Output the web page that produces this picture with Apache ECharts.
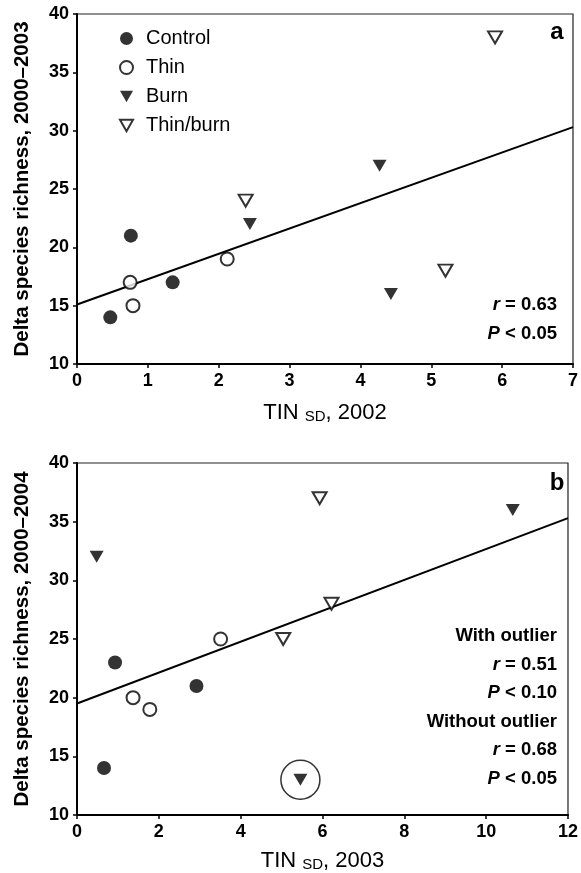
<!DOCTYPE html>
<html>
<head>
<meta charset="utf-8">
<script src="https://cdn.jsdelivr.net/npm/echarts@6/dist/echarts.min.js"></script>
<style>
  html, body { margin: 0; padding: 0; background: #fff; }
  #chart { width: 581px; height: 873px; }
</style>
</head>
<body>
<div id="chart"></div>
<script>
// groups shown in the legend
const groups = ["Control", "Thin", "Burn", "Thin/burn"];

// panel a: TIN SD 2002 vs delta richness 2000-2003
const aControl = [[0.47, 14], [0.76, 21], [1.35, 17]];
const aThin = [[0.75, 17], [0.79, 15], [2.12, 19]];
const aBurn = [[2.44, 22], [4.27, 27], [4.43, 16]];
const aThinBurn = [[2.38, 24], [5.2, 18], [5.9, 38]];
const aFit = [[0, 15.1], [7, 30.3]];

// panel b: TIN SD 2003 vs delta richness 2000-2004
const bControl = [[0.66, 14], [0.93, 23], [2.92, 21]];
const bThin = [[1.37, 20], [1.78, 19], [3.51, 25]];
const bBurn = [[0.48, 32], [10.65, 36], [5.46, 13]];
const bThinBurn = [[5.04, 25], [5.93, 37], [6.22, 28]];
const bFit = [[0, 19.5], [12, 35.3]];
const bOutlier = [[5.46, 13]];

const aXMax = 7, aXStep = 1;
const bXMax = 12, bXStep = 2;
const yMin = 10, yMax = 40, yStep = 5;

const aStats = ["{i|r} = 0.63", "{i|P} < 0.05"];
const bStats = ["With outlier", "{i|r} = 0.51", "{i|P} < 0.10", "Without outlier", "{i|r} = 0.68", "{i|P} < 0.05"];

const FONT = "Liberation Sans, Arial, Helvetica, sans-serif";
const DOWN = "path://M0,0L12,0L6,10.4Z";

const markStyle = {
  "Control": { symbol: "circle", symbolSize: 14, itemStyle: { color: "#000" } },
  "Thin": { symbol: "circle", symbolSize: 13, itemStyle: { color: "#fff", borderColor: "#000", borderWidth: 2 } },
  "Burn": { symbol: "triangle", symbolSize: [14, 12], symbolRotate: 180, itemStyle: { color: "#000" } },
  "Thin/burn": { symbol: "triangle", symbolSize: [14, 12], symbolRotate: 180, itemStyle: { color: "#fff", borderColor: "#000", borderWidth: 2 } },
};
const legendIcon = { "Control": "circle", "Thin": "circle", "Burn": DOWN, "Thin/burn": DOWN };

function scatter(name, data, idx) {
  return Object.assign({
    type: "scatter", name, data,
    xAxisIndex: idx, yAxisIndex: idx,
    silent: true, z: 3,
  }, markStyle[name]);
}

function fitLine(data, idx) {
  return {
    type: "line", data, xAxisIndex: idx, yAxisIndex: idx,
    showSymbol: false, silent: true, z: 2,
    lineStyle: { color: "#000", width: 2 },
  };
}

function xAxis(idx, max, step, year, gap) {
  return {
    type: "value", gridIndex: idx, min: 0, max, interval: step,
    name: "{n|TIN }{s|SD}{n|, " + year + "}",
    nameLocation: "middle", nameGap: gap,
    nameTextStyle: {
      color: "#000", fontFamily: FONT,
      rich: {
        n: { fontSize: 22, fontFamily: FONT, color: "#000", verticalAlign: "bottom", lineHeight: 24 },
        s: { fontSize: 15, fontFamily: FONT, color: "#000", verticalAlign: "bottom", lineHeight: 21 },
      },
    },
    axisLine: { onZero: false, lineStyle: { color: "#000", width: 2 } },
    axisTick: { length: 4, lineStyle: { color: "#000", width: 1.5 } },
    axisLabel: { color: "#000", fontSize: 18, fontWeight: "bold", fontFamily: FONT, margin: 8 },
    splitLine: { show: false },
  };
}

function yAxis(idx, years) {
  return {
    type: "value", gridIndex: idx, min: yMin, max: yMax, interval: yStep,
    name: "Delta species richness, " + years,
    nameLocation: "middle", nameGap: 44,
    nameTextStyle: { color: "#000", fontSize: 20.5, fontWeight: "bold", fontFamily: FONT },
    axisLine: { onZero: false, lineStyle: { color: "#000", width: 2 } },
    axisTick: { length: 4, lineStyle: { color: "#000", width: 1.5 } },
    axisLabel: { color: "#000", fontSize: 18, fontWeight: "bold", fontFamily: FONT, margin: 8 },
    splitLine: { show: false },
  };
}

function statTexts(lines, firstY) {
  return lines.map((t, i) => ({
    type: "text", x: 557, y: firstY + i * 28.6, silent: true,
    style: {
      text: t, fill: "#000", fontSize: 18.5, fontWeight: "bold", fontFamily: FONT,
      align: "right", verticalAlign: "middle",
      rich: { i: { fontStyle: "italic", fontSize: 18.5, fontWeight: "bold", fontFamily: FONT, fill: "#000" } },
    },
  }));
}

const chart = echarts.init(document.getElementById("chart"), null, { renderer: "canvas" });

chart.setOption({
  animation: false,
  backgroundColor: "#fff",
  grid: [
    { left: 77, top: 14, width: 499, height: 350, show: true, borderColor: "#222", borderWidth: 1.2 },
    { left: 77, top: 463, width: 499, height: 353, show: true, borderColor: "#222", borderWidth: 1.2 },
  ],
  xAxis: [xAxis(0, aXMax, aXStep, "2002", 36), xAxis(1, bXMax, bXStep, "2003", 33)],
  yAxis: [yAxis(0, "2000–2003"), yAxis(1, "2000–2004")],
  legend: {
    data: groups.map((g) => ({ name: g, icon: legendIcon[g] })),
    orient: "vertical", left: 114, top: 23,
    itemWidth: 13, itemHeight: 13, itemGap: 8, selectedMode: false,
    textStyle: { color: "#000", fontSize: 20, fontFamily: FONT, lineHeight: 21, padding: [0, 0, 0, 8] },
  },
  series: [
    scatter("Control", aControl, 0),
    scatter("Thin", aThin, 0),
    scatter("Burn", aBurn, 0),
    scatter("Thin/burn", aThinBurn, 0),
    fitLine(aFit, 0),
    scatter("Control", bControl, 1),
    scatter("Thin", bThin, 1),
    scatter("Burn", bBurn, 1),
    scatter("Thin/burn", bThinBurn, 1),
    fitLine(bFit, 1),
    {
      type: "scatter", data: bOutlier, xAxisIndex: 1, yAxisIndex: 1, silent: true, z: 1,
      symbol: "circle", symbolSize: 39,
      itemStyle: { color: "rgba(255,255,255,0)", borderColor: "#000", borderWidth: 1.5 },
    },
  ],
  graphic: [
    { type: "text", x: 557, y: 32, silent: true,
      style: { text: "a", fill: "#000", fontSize: 24, fontWeight: "bold", fontFamily: FONT, align: "center", verticalAlign: "middle" } },
    { type: "text", x: 557, y: 483, silent: true,
      style: { text: "b", fill: "#000", fontSize: 24, fontWeight: "bold", fontFamily: FONT, align: "center", verticalAlign: "middle" } },
    ...statTexts(aStats, 305),
    ...statTexts(bStats, 636),
  ],
});
</script>
</body>
</html>
